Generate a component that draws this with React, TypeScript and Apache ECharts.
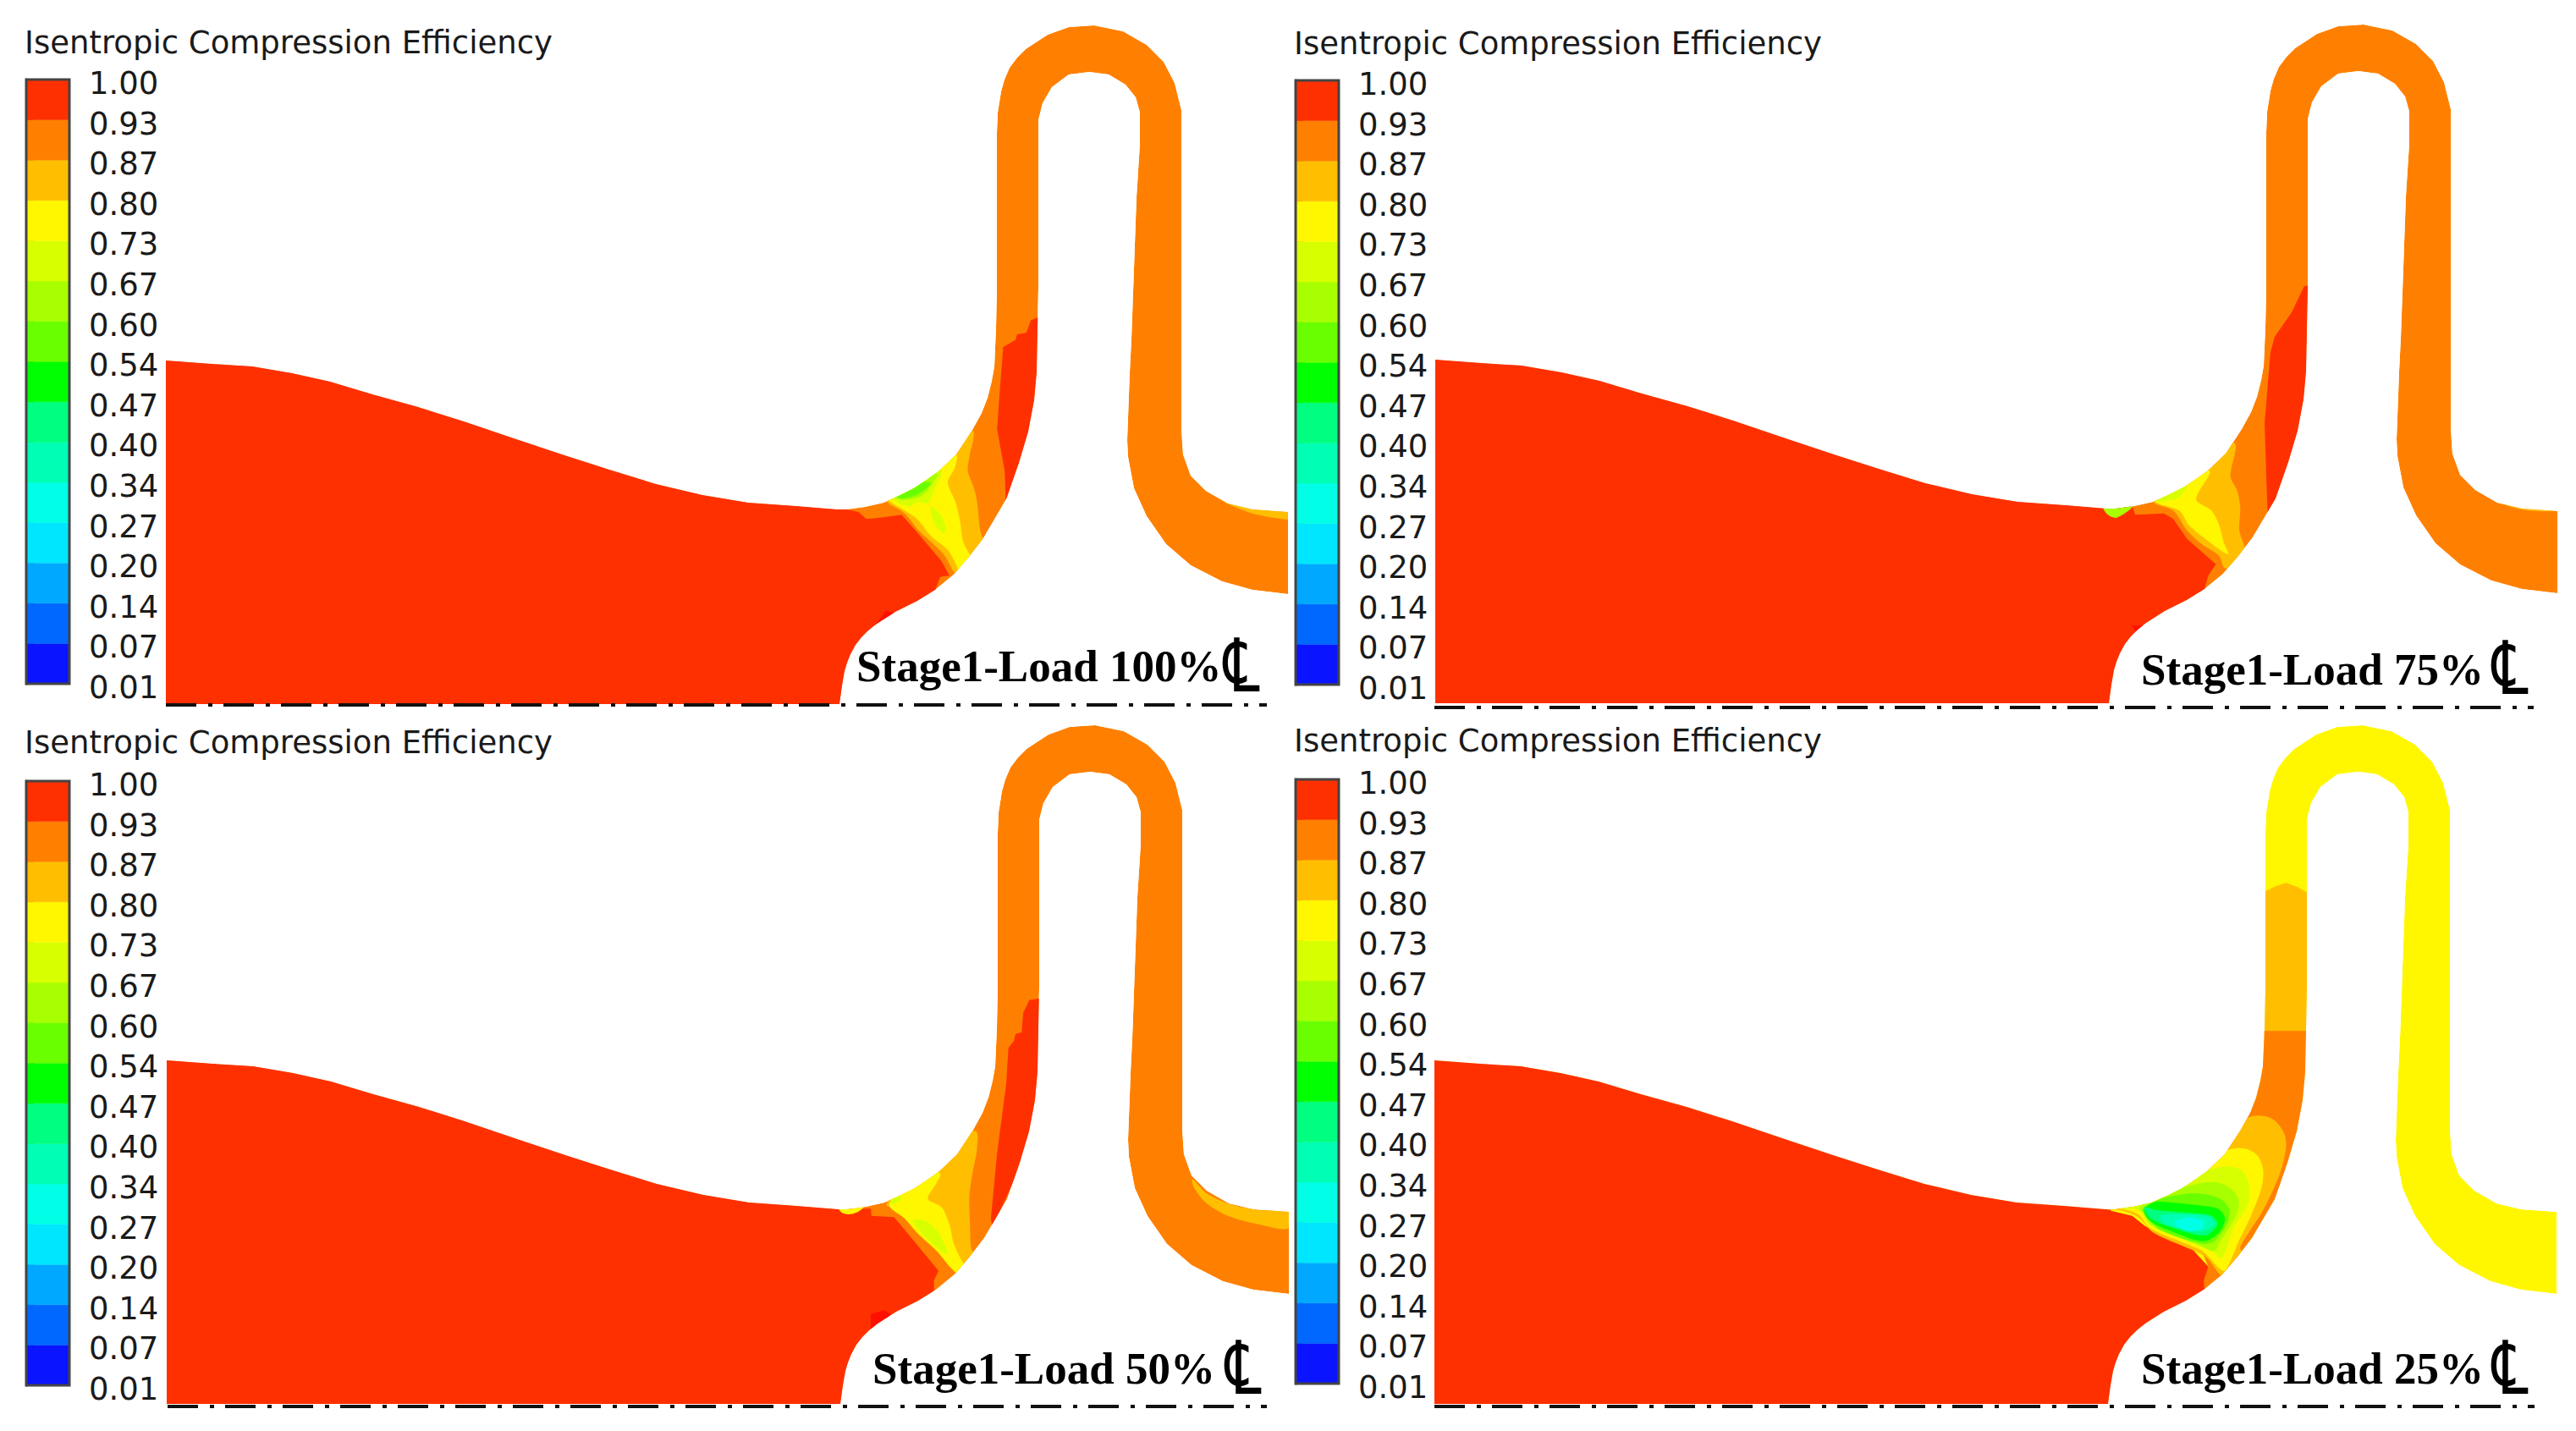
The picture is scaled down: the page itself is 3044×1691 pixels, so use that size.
import React, { useEffect, useRef } from "react";
import * as echarts from "echarts";

type P = number[][];
type Zone = [number, P];

const titleText = "Isentropic Compression Efficiency";
const centreLineMark = "\u2104";
const tickLabels = ["0.01","0.07","0.14","0.20","0.27","0.34","0.40","0.47","0.54","0.60","0.67","0.73","0.80","0.87","0.93","1.00"];
const bandColors = ["#0a14ff","#0068ff","#00a8ff","#00e6ff","#00ffe6","#00ffb4","#00ff80","#00ff00","#6aff00","#a8ff00","#d8ff00","#fff700","#ffbf00","#ff8000","#ff3000"];
const L = { red: 14, orange: 13, amber: 12, yellow: 11, yg: 10, lime: 9, lime2: 8, green: 7, sp: 6, aq: 5, cy: 4 };
const bright = "#ff0f00";

// domain outline (panel 1 pixels)
const bodyTop: P = [[196,426],[250,430],[298,433],[345,441],[390,451],[440,466],[494,481],[548,498],[607,518],[667,538],[720,555],[775,572],[830,585],[884,594],[940,598],[989,602],[1000,602],[1022,599],[1044,594],[1062,586],[1080,577],[1095,567],[1109,557],[1130,537],[1149,508],[1160,488],[1167,470],[1172,450],[1175,433],[1177,387],[1178,340]];
const loopOuter: P = [[1178,157],[1179,133],[1183,108],[1187,94],[1193,80],[1202,68],[1212,58],[1238,41],[1263,32],[1293,30],[1327,37],[1355,53],[1375,73],[1388,98],[1396,130]];
const returnOuter: P = [[1396,507],[1398,537],[1407,562],[1425,580],[1451,595],[1480,602],[1522,605],[1522,702],[1480,697],[1444,687],[1407,668],[1378,643],[1355,610],[1340,577],[1333,540],[1332,520],[1335,440],[1337,400],[1340,317],[1343,233],[1347,170],[1347,133]];
const loopInner: P = [[1342,115],[1330,100],[1310,88],[1287,85],[1263,88],[1243,103],[1232,122],[1227,142]];
const hubEdge: P = [[1227,340],[1225,440],[1222,473],[1215,510],[1204,547],[1189,590],[1162,636],[1145,658],[1127,679],[1105,697],[1084,710],[1058,723],[1036,737],[1026,745],[1018,753],[1011,762],[1005,773],[1001,783],[998,793],[995,810],[992,832],[196,832]];
const outline: P = [...bodyTop, ...loopOuter, ...returnOuter, ...loopInner, ...hubEdge];

// contour zones for each load, read in crop units
const crop = (x0: number, y0: number, sx: number, sy: number, dx: number, dy: number) => (pts: P): P =>
  pts.map(([x, y]) => [x0 + x / sx - dx, y0 + y / sy - dy]);

const load100Zones: Zone[] = [
  [L.red, [[-2500,100],[110,700],[110,785],[150,795],[175,820],[220,815],[290,805],[335,860],[420,970],[445,1020],[415,1025],[400,1070],[400,1200],[0,1600],[-2500,1600]]],
  [L.red, [[735,105],[710,115],[695,160],[665,165],[660,185],[620,210],[610,350],[600,500],[615,590],[625,650],[628,750],[700,700],[800,400],[800,100]]],
  [L.amber, [[520,505],[510,600],[505,650],[525,710],[535,760],[545,860],[555,888],[600,950],[500,1060],[462,1012],[430,950],[385,900],[345,860],[300,800],[245,762],[200,700],[400,500]]],
  [L.yellow, [[468,592],[462,640],[440,690],[465,760],[480,830],[490,900],[515,950],[560,1000],[480,1040],[470,990],[440,930],[385,880],[340,820],[300,790],[258,762],[200,700],[400,500]]],
  [L.yg, [[420,645],[395,720],[375,765],[345,760],[315,775],[265,755],[200,700],[350,600]]],
  [L.yg, [[385,775],[420,810],[435,860],[425,870],[395,835]]],
  [L.lime, [[405,660],[385,700],[360,735],[320,750],[280,750],[200,700],[350,600]]],
  [L.lime2, [[385,690],[355,725],[310,745],[280,745],[250,700]]],
  [-1, [[240,1145],[270,1155],[230,1185],[200,1200]]],
  [L.amber, [[1270,700],[1340,760],[1430,800],[1545,822],[1600,822],[1600,780],[1400,760],[1280,690]]],
];
const load75Zones: Zone[] = [
  [L.red, [[-2500,-200],[0,500],[112,600],[120,625],[215,620],[245,640],[290,710],[385,800],[360,840],[350,880],[300,1100],[0,1400],[-2500,1400]]],
  [L.lime, [[15,595],[110,595],[60,635],[30,625]]],
  [L.red, [[700,-190],[675,-185],[634,-93],[578,-6],[564,50],[545,300],[550,480],[555,620],[720,400]]],
  [L.amber, [[445,370],[433,490],[455,540],[465,600],[462,680],[478,745],[450,790],[415,815],[395,770],[340,730],[290,680],[245,610],[180,575],[300,400]]],
  [L.yellow, [[365,470],[320,570],[370,610],[395,660],[410,720],[425,765],[350,710],[295,660],[265,610],[185,575],[250,500]]],
  [L.yg, [[290,525],[262,565],[225,575],[190,578],[240,545]]],
  [-1, [[110,1018],[150,1018],[125,1045]]],
  [L.amber, [[1300,570],[1400,600],[1510,605],[1510,612],[1400,608],[1320,585]]],
];
const load50Zones: Zone[] = [
  [L.red, [[-2500,-500],[0,600],[85,745],[190,745],[192,770],[265,775],[300,820],[410,965],[395,1000],[395,1040],[300,1200],[0,1600],[-2500,1600]]],
  [L.yellow, [[85,740],[165,740],[140,760],[115,765],[95,758]]],
  [L.red, [[735,0],[705,5],[685,50],[680,120],[660,125],[655,150],[637,175],[630,300],[600,550],[580,780],[585,810],[760,400],[760,0]]],
  [L.amber, [[530,470],[535,530],[520,620],[510,700],[512,800],[515,880],[522,900],[600,1000],[500,1000],[470,970],[440,930],[370,860],[320,800],[280,745],[240,730],[400,500]]],
  [L.yellow, [[415,620],[400,660],[375,710],[420,740],[445,800],[460,870],[492,940],[540,1000],[470,975],[400,890],[340,830],[300,780],[250,730],[350,600]]],
  [L.yg, [[325,785],[370,790],[410,830],[440,905],[400,880],[350,825]]],
  [L.yg, [[290,705],[270,725],[255,725],[260,690]]],
  [-1, [[190,1118],[235,1105],[255,1120],[190,1185]]],
  [L.amber, [[1235,640],[1280,690],[1360,730],[1450,750],[1545,755],[1545,815],[1450,800],[1350,770],[1280,725],[1240,670]]],
];
const load25Dome: Zone[] = [
  [L.amber, [[100,585],[150,560],[185,550],[225,565],[270,590],[270,1085],[100,1085]]],
];
const load25Zones: Zone[] = [
  [L.orange, [[480,-65],[720,-65],[720,400],[480,820],[350,860],[340,820],[360,770],[340,720],[170,640],[130,590],[100,575],[30,560],[100,500]]],
  [L.red, [[-2500,-300],[0,500],[40,572],[110,590],[150,625],[190,650],[300,700],[360,770],[345,820],[348,855],[300,1000],[0,1400],[-2500,1400]]],
  [L.amber, [[495,240],[530,235],[575,250],[610,300],[615,350],[595,440],[540,570],[465,700],[470,725],[415,795],[400,800],[350,735],[180,650],[130,595],[70,570],[30,565],[300,350]]],
  [L.yellow, [[430,355],[480,352],[520,375],[540,425],[535,490],[500,590],[460,680],[415,785],[390,770],[340,715],[170,635],[130,585],[70,565],[30,565],[300,400]]],
  [L.yg, [[370,425],[430,415],[475,435],[495,490],[490,550],[445,630],[405,740],[375,720],[340,700],[170,625],[145,585],[120,565],[80,565],[200,500]]],
  [L.lime, [[290,485],[375,470],[430,490],[460,535],[450,590],[400,680],[380,715],[340,700],[170,620],[145,580],[135,560],[200,510]]],
  [L.lime2, [[240,520],[320,510],[400,530],[430,570],[420,620],[380,680],[340,690],[200,640],[155,590],[145,565],[190,535]]],
  [L.green, [[175,545],[200,540],[300,550],[390,565],[415,600],[395,650],[345,680],[250,650],[170,610],[148,570]]],
  [L.sp, [[150,560],[190,570],[300,580],[370,590],[390,620],[350,660],[250,635],[170,600]]],
  [L.aq, [[200,590],[300,585],[365,595],[380,620],[340,645],[300,640],[220,620]]],
  [L.cy, [[250,610],[300,595],[345,610],[340,635],[300,645],[260,630]]],
];

const panels = [
  { label: "Stage1-Load 100%", base: "#ff8000", dx: 0, dy: 0, bar: [0, 0], titleY: 32, textX: 1012, textY: 813, cl: [1449, 757], line: [196, 1497, 833], sharp: 0,
    zones: load100Zones.map(([l, p]) => [l, crop(960, 340, 2.75, 3, 0, 0)(p)] as Zone) },
  { label: "Stage1-Load 75%", base: "#ff8000", dx: 1500, dy: -1, bar: [1500, 1], titleY: 33, textX: 2530, textY: 817, cl: [2948, 760], line: [1695, 2994, 836], sharp: 0,
    zones: load75Zones.map(([l, p]) => [l, crop(2480, 400, 2.78, 3, 1500, -1)(p)] as Zone) },
  { label: "Stage1-Load 50%", base: "#ff8000", dx: 1, dy: 827, bar: [0, 829], titleY: 859, textX: 1031, textY: 1643, cl: [1451, 1587], line: [198, 1497, 1662], sharp: 0,
    zones: load50Zones.map(([l, p]) => [l, crop(960, 1180, 2.75, 3, 1, 827)(p)] as Zone) },
  { label: "Stage1-Load 25%", base: "#fff700", dx: 1499, dy: 827, bar: [1500, 827], titleY: 857, textX: 2530, textY: 1643, cl: [2948, 1587], line: [1695, 2995, 1662], sharp: load25Dome.length,
    zones: [
      ...load25Dome.map(([l, p]) => [l, crop(2640, 860, 3, 3, 1499, 827)(p)] as Zone),
      ...load25Zones.map(([l, p]) => [l, crop(2480, 1240, 2.78, 3, 1499, 827)(p)] as Zone),
    ] },
];

const BAR = { left: 31, top: 94, width: 51, height: 714 };

function buildOption() {
  const grid: any[] = [{ left: 0, top: 0, width: 3044, height: 1691 }];
  const xAxis: any[] = [{ type: "value", gridIndex: 0, min: 0, max: 3044, show: false }];
  const yAxis: any[] = [{ type: "value", gridIndex: 0, min: 0, max: 1691, inverse: true, show: false }];
  const series: any[] = [];
  const title: any[] = [];
  const gfx: any[] = [];

  panels.forEach((p, i) => {
    const shifted = outline.map(([x, y]) => [x + p.dx, y + p.dy]);
    const layers: { fill: string; pts: P; smooth: number }[] = [
      { fill: p.base, pts: shifted, smooth: 0 },
      ...p.zones.map(([l, pts], k) => ({
        fill: l < 0 ? bright : bandColors[l],
        pts: pts.map(([x, y]) => [x + p.dx, y + p.dy]),
        smooth: l >= 0 && l <= L.amber && k >= p.sharp ? 0.3 : 0,
      })),
    ];
    series.push({
      type: "custom",
      name: p.label,
      coordinateSystem: "cartesian2d",
      xAxisIndex: 0,
      yAxisIndex: 0,
      clip: false,
      silent: true,
      data: layers.map((_, k) => [k, 0]),
      renderItem: (params: any, api: any) => {
        const layer = layers[params.dataIndex];
        const clipPts = shifted.map((c) => api.coord(c));
        return {
          type: "polygon",
          shape: { points: layer.pts.map((c) => api.coord(c)), smooth: layer.smooth },
          style: { fill: layer.fill },
          clipPath: { type: "polygon", shape: { points: clipPts } },
        };
      },
    });
    series.push({
      type: "line",
      xAxisIndex: 0,
      yAxisIndex: 0,
      symbol: "none",
      silent: true,
      lineStyle: { color: "#111", width: 4, type: [36, 14, 5, 13] },
      data: [[p.line[0], p.line[2]], [p.line[1], p.line[2]]],
    });

    // colour bar
    const g = i + 1;
    grid.push({ left: BAR.left + p.bar[0], top: BAR.top + p.bar[1], width: BAR.width, height: BAR.height });
    xAxis.push({ type: "value", gridIndex: g, min: 0, max: 1, show: false });
    yAxis.push({
      type: "category",
      gridIndex: g,
      position: "right",
      boundaryGap: false,
      data: tickLabels,
      axisLine: { show: true, lineStyle: { color: "#444", width: 3 } },
      axisTick: { show: true, length: 9, lineStyle: { color: "#555", width: 2 } },
      axisLabel: { interval: 0, margin: 23, fontFamily: "DejaVu Sans", fontSize: 37, color: "#1a1a1a", verticalAlign: "top", padding: [-14, 0, 0, 0] },
      splitLine: { show: false },
    });
    series.push({
      type: "custom",
      name: "colour bar " + g,
      coordinateSystem: "cartesian2d",
      xAxisIndex: g,
      yAxisIndex: g,
      silent: true,
      clip: false,
      data: bandColors.map((_, k) => [0, k]),
      renderItem: (params: any, api: any) => {
        const k = params.dataIndex;
        const a = api.coord([0, k]);
        const b = api.coord([1, k + 1]);
        return {
          type: "rect",
          shape: { x: a[0], y: b[1], width: b[0] - a[0], height: a[1] - b[1] },
          style: { fill: bandColors[k], stroke: bandColors[k], lineWidth: 0.5 },
        };
      },
    });
    gfx.push({
      type: "rect",
      shape: { x: BAR.left + p.bar[0], y: BAR.top + p.bar[1], width: BAR.width, height: BAR.height },
      style: { fill: "none", stroke: "#444", lineWidth: 3 },
      z: 50,
    });

    title.push({
      text: titleText,
      left: 29 + p.bar[0],
      top: p.titleY,
      textStyle: { fontFamily: "DejaVu Sans", fontWeight: "normal", fontSize: 37, color: "#1a1a1a" },
      padding: 0,
    });
    gfx.push({
      type: "text",
      x: p.textX,
      y: p.textY,
      style: { text: p.label, fill: "#000", font: 'bold 53px "Liberation Serif"', verticalAlign: "bottom" },
      z: 60,
    });
    gfx.push({
      type: "text",
      x: p.cl[0] - 3,
      y: p.cl[1] + 30,
      scaleX: 0.95,
      scaleY: 1.25,
      style: { text: centreLineMark, fill: "#000", font: '70px "DejaVu Sans"', verticalAlign: "middle" },
      z: 60,
    });
  });

  return { animation: false, backgroundColor: "#ffffff", title, grid, xAxis, yAxis, series, graphic: { elements: gfx } };
}

export default function App() {
  const ref = useRef<HTMLDivElement>(null);
  useEffect(() => {
    document.body.style.margin = "0";
    const chart = echarts.init(ref.current!, undefined, { renderer: "svg" });
    chart.setOption(buildOption() as any);
    return () => chart.dispose();
  }, []);
  return <div ref={ref} style={{ width: 3044, height: 1691 }} />;
}
